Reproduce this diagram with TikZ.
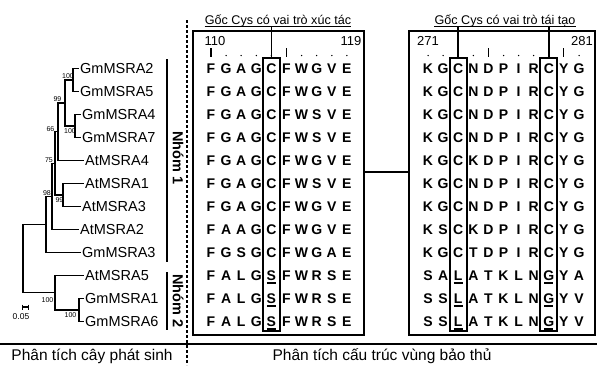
\documentclass[tikz,border=0pt]{standalone}
\usepackage{fontspec}
\setmainfont{Liberation Sans}
\usetikzlibrary{calc}
\begin{document}
\begin{tikzpicture}[x=1pt,y=-1pt,
  leaf/.style={anchor=west, inner sep=1pt, font=\fontsize{14.5}{15}\selectfont},
  bs/.style={inner sep=0pt, font=\fontsize{7}{7}\selectfont},
  br/.style={line width=1.1pt},
  aa/.style={anchor=base, inner sep=0pt, font=\bfseries\fontsize{14}{14}\selectfont},
  num/.style={inner sep=0pt, font=\fontsize{13}{13}\selectfont},
  hdr/.style={anchor=base, inner sep=0pt, font=\fontsize{12.6}{13}\selectfont},
  grp/.style={rotate=-90, inner sep=0pt, font=\bfseries\fontsize{14.5}{15}\selectfont},
  bot/.style={inner sep=0pt, font=\fontsize{15.5}{16}\selectfont},
  cbox/.style={draw, line width=1.8pt, inner sep=0pt, outer sep=0pt, minimum width=17, minimum height=273},
  abox/.style={draw, line width=1.3pt, inner sep=0pt, outer sep=0pt},
  callout/.style={line width=1.8pt},
  uline/.style={line width=1.1pt}]
\useasboundingbox (0,0) rectangle (597,365);

% ---------- tree ----------
\node[leaf] (gm2) at (79,68.5) {GmMSRA2};
\node[leaf] (gm5) at (79,91.5) {GmMSRA5};
\node[leaf] (gm4) at (81,114.5) {GmMSRA4};
\node[leaf] (gm7) at (81,137.5) {GmMSRA7};
\node[leaf] (at4) at (84,160.5) {AtMSRA4};
\node[leaf] (at1) at (84,183.5) {AtMSRA1};
\node[leaf] (at3) at (81,206.5) {AtMSRA3};
\node[leaf] (at2) at (79,229.5) {AtMSRA2};
\node[leaf] (gm3) at (81,252.5) {GmMSRA3};
\node[leaf] (at5) at (84,275.5) {AtMSRA5};
\node[leaf] (gm1) at (84,298.5) {GmMSRA1};
\node[leaf] (gm6) at (84,321.5) {GmMSRA6};

\coordinate (nA) at (73,80);
\coordinate (nB) at (75,126);
\coordinate (nC) at (65,103);
\coordinate (nD) at (58,131.75);
\coordinate (nH) at (63,195);
\coordinate (nJ) at (55,163.4);
\coordinate (nK) at (52,196.4);
\coordinate (nI) at (46,224.5);
\coordinate (nM) at (79,310);
\coordinate (nL) at (55,292.75);
\coordinate (nR) at (23,258.6);

\draw[br] (nA) |- (gm2.west);
\draw[br] (nA) |- (gm5.west);
\draw[br] (nB) |- (gm4.west);
\draw[br] (nB) |- (gm7.west);
\draw[br] (nC) |- (nA);
\draw[br] (nC) |- (nB);
\draw[br] (nD) |- (nC);
\draw[br] (nD) |- (at4.west);
\draw[br] (nH) |- (at1.west);
\draw[br] (nH) |- (at3.west);
\draw[br] (nJ) |- (nD);
\draw[br] (nJ) |- (nH);
\draw[br] (nK) |- (nJ);
\draw[br] (nK) |- (at2.west);
\draw[br] (nI) |- (nK);
\draw[br] (nI) |- (gm3.west);
\draw[br] (nM) |- (gm1.west);
\draw[br] (nM) |- (gm6.west);
\draw[br] (nL) |- (at5.west);
\draw[br] (nL) |- (nM);
\draw[br] (nR) |- (nI);
\draw[br] (nR) |- (nL);

\node[bs] (bA) at (68,76.5) {100};
\node[bs] (bB) at (70,131) {100};
\node[bs] (bC) at (57.5,99) {99};
\node[bs] (bD) at (50.5,129.5) {66};
\node[bs] (bJ) at (49,160.5) {75};
\node[bs] (bK) at (47,193.5) {98};
\node[bs] (bH) at (59.5,200.5) {99};
\node[bs] (bL) at (47.5,300) {100};
\node[bs] (bM) at (70.5,315.5) {100};

% scale bar
\coordinate (sb1) at (22,307);
\coordinate (sb2) at (28,307);
\draw[br] (sb1) -- (sb2);
\draw[line width=0.8pt] ($(sb1)+(0,-2.5)$) -- ($(sb1)+(0,2.5)$);
\draw[line width=0.8pt] ($(sb2)+(0,-2.5)$) -- ($(sb2)+(0,2.5)$);
\node[inner sep=0pt, font=\fontsize{8.5}{9}\selectfont] (sbl) at (21,317) {0.05};

% groups
\coordinate (g1a) at (167,59);
\coordinate (g1b) at (167,262);
\coordinate (g2a) at (167,272);
\coordinate (g2b) at (167,330);
\draw[line width=1.8pt] (g1a) -- (g1b);
\draw[line width=1.8pt] (g2a) -- (g2b);
\node[grp] (nh1) at (178,158) {Nhóm 1};
\node[grp] (nh2) at (178,301) {Nhóm 2};

% separators
\coordinate (d1) at (187,20);
\coordinate (d2) at (187,365);
\draw[line width=2.2pt, dash pattern=on 3pt off 2pt] (d1) -- (d2);
\coordinate (h1a) at (0,344);
\coordinate (h1b) at (597,344);
\draw[line width=2pt] (h1a) -- (h1b);

\node[bot] (t1) at (92,356) {Phân tích cây phát sinh};
\node[bot] (t2) at (382,356) {Phân tích cấu trúc vùng bảo thủ};

% ---------- alignment boxes ----------
\node[abox, minimum width=171, minimum height=304] (box1) at (278.5,183) {};
\node[abox, minimum width=186, minimum height=304] (box2) at (502,183) {};
\coordinate (cm) at (386,172);
\draw[line width=1.3pt] (box1.east |- cm) -- (box2.west |- cm);

\node[num] (n110) at (215,41) {110};
\node[num] (n119) at (351,41) {119};
\node[num] (n271) at (428,41) {271};
\node[num] (n281) at (582,41) {281};

% ticks
\foreach \k in {0,5} \draw[line width=1.1pt] ({211+15.1*\k},48) -- ({211+15.1*\k},57);
\foreach \k in {1,2,3,4,6,7,8,9} \fill ({211+15.1*\k},55.5) circle (0.75);
\foreach \k in {4,9} \draw[line width=1.1pt] ({428+15.1*\k},48) -- ({428+15.1*\k},57);
\foreach \k in {0,1,2,3,5,6,7,8,10} \fill ({428+15.1*\k},55.5) circle (0.75);

% left letters
\foreach \row [count=\r from 0] in {
  {F,G,A,G,C,F,W,G,V,E},
  {F,G,A,G,C,F,W,G,V,E},
  {F,G,A,G,C,F,W,S,V,E},
  {F,G,A,G,C,F,W,S,V,E},
  {F,G,A,G,C,F,W,G,V,E},
  {F,G,A,G,C,F,W,S,V,E},
  {F,G,A,G,C,F,W,G,V,E},
  {F,A,A,G,C,F,W,G,V,E},
  {F,G,S,G,C,F,W,G,A,E},
  {F,A,L,G,S,F,W,R,S,E},
  {F,A,L,G,S,F,W,R,S,E},
  {F,A,L,G,S,F,W,R,S,E}} {
  \foreach \c [count=\k from 0] in \row {
    \node[aa] (la-\r-\k) at ({211+15.1*\k},{73.5+23*\r}) {\c};
  }
}
% right letters
\foreach \row [count=\r from 0] in {
  {K,G,C,N,D,P,I,R,C,Y,G},
  {K,G,C,N,D,P,I,R,C,Y,G},
  {K,G,C,N,D,P,I,R,C,Y,G},
  {K,G,C,N,D,P,I,R,C,Y,G},
  {K,G,C,K,D,P,I,R,C,Y,G},
  {K,G,C,N,D,P,I,R,C,Y,G},
  {K,G,C,N,D,P,I,R,C,Y,G},
  {K,S,C,K,D,P,I,R,C,Y,G},
  {K,G,C,T,D,P,I,R,C,Y,G},
  {S,A,L,A,T,K,L,N,G,Y,A},
  {S,S,L,A,T,K,L,N,G,Y,V},
  {S,S,L,A,T,K,L,N,G,Y,V}} {
  \foreach \c [count=\k from 0] in \row {
    \node[aa] (ra-\r-\k) at ({428+15.1*\k},{73.5+23*\r}) {\c};
  }
}
% underlines
\foreach \r in {9,10,11} {
  \draw[uline] ($(la-\r-4.base)+(-4.5,2.5)$) -- ($(la-\r-4.base)+(4.5,2.5)$);
  \draw[uline] ($(ra-\r-2.base)+(-4.5,2.5)$) -- ($(ra-\r-2.base)+(4.5,2.5)$);
  \draw[uline] ($(ra-\r-8.base)+(-4.5,2.5)$) -- ($(ra-\r-8.base)+(4.5,2.5)$);
}

% conserved-residue boxes
\node[cbox] (cb1) at (271.4,194.5) {};
\node[cbox] (cb2) at (458.2,194.5) {};
\node[cbox] (cb3) at (548.8,194.5) {};

% headers
\node[hdr] (hd1) at (278,24) {Gốc Cys có vai trò xúc tác};
\node[hdr] (hd2) at (505,24) {Gốc Cys có vai trò tái tạo};
\coordinate (u1) at ([yshift=-2.2pt]hd1.base);
\coordinate (u2) at ([yshift=-2.2pt]hd2.base);
\draw[line width=0.9pt] ([yshift=-2.2pt]hd1.base west) -- ([yshift=-2.2pt]hd1.base east);
\draw[line width=0.9pt] ([yshift=-2.2pt]hd2.base west) -- ([yshift=-2.2pt]hd2.base east);
\draw[callout] (cb1.north) -- (cb1.north |- u1);
\draw[callout] (cb2.north) -- (cb2.north |- u2);
\draw[callout] (cb3.north) -- (cb3.north |- u2);
\end{tikzpicture}
\end{document}
